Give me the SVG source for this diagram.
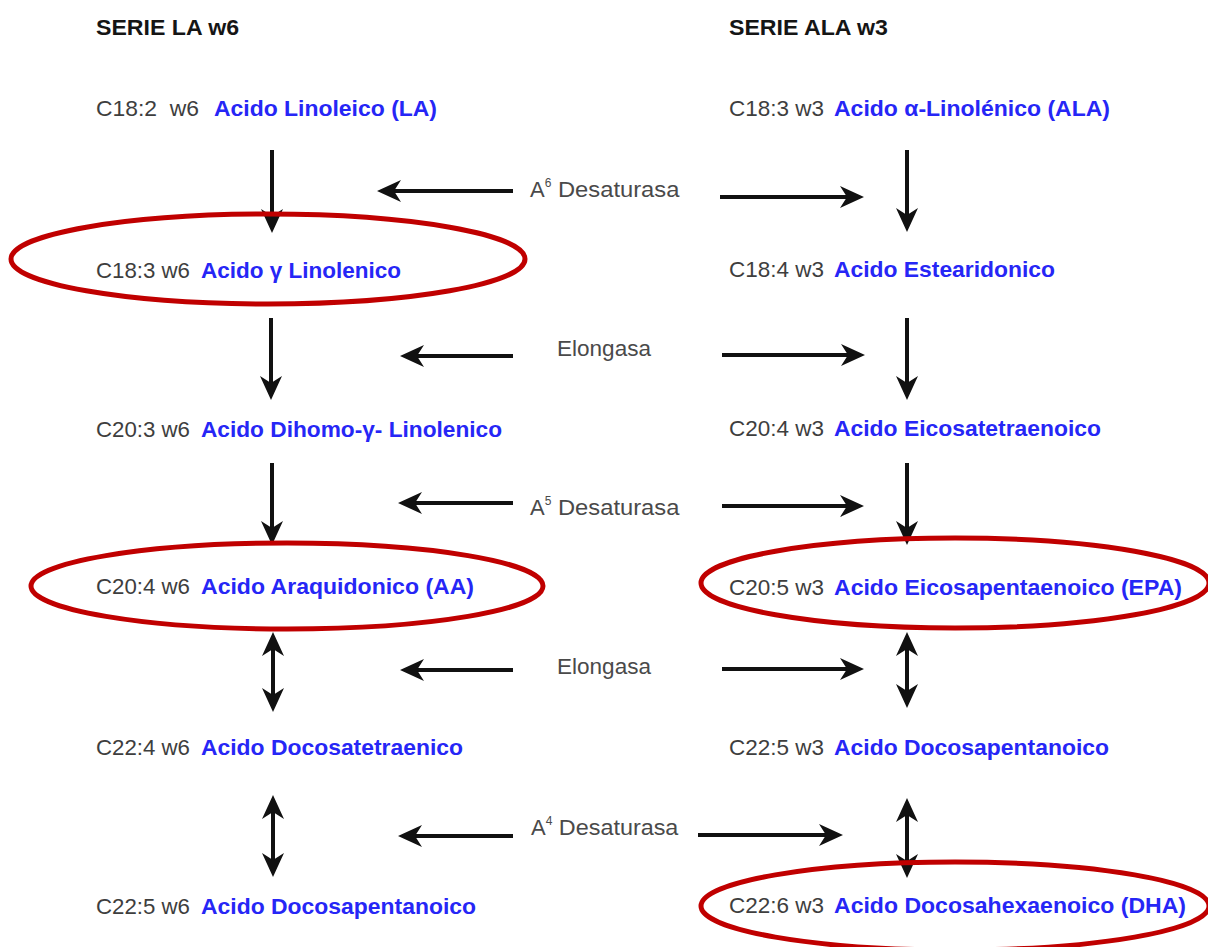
<svg xmlns="http://www.w3.org/2000/svg" width="1208" height="947" viewBox="0 0 1208 947">
<style>
  .hdr { font-family: "Liberation Sans", Arial, sans-serif; font-size: 22px; font-weight: bold; fill: #151515; }
  .c { font-family: "Liberation Sans", Arial, sans-serif; font-size: 22px; fill: #3e3e3e; }
  .n { font-family: "Liberation Sans", Arial, sans-serif; font-size: 22px; font-weight: bold; fill: #2626f6; }
  .lbl { font-family: "Liberation Sans", Arial, sans-serif; font-size: 22px; fill: #4a4a4a; }
  .sup { font-size: 12px; }
  .hl { fill: none; stroke: #c00000; stroke-width: 5; }
  .arr { stroke: #111; stroke-width: 4; fill: none; marker-end: url(#ah); }
  .dbl { stroke: #111; stroke-width: 4; fill: none; marker-end: url(#ah); marker-start: url(#ahs); }
</style>
<defs>
  <marker id="ah" markerUnits="userSpaceOnUse" markerWidth="24" markerHeight="22" viewBox="0 0 24 22" refX="8" refY="11" orient="auto">
    <path d="M0,0 L24,11 L0,22 L7,11 z" fill="#111"/>
  </marker>
  <marker id="ahs" markerUnits="userSpaceOnUse" markerWidth="24" markerHeight="22" viewBox="0 0 24 22" refX="8" refY="11" orient="auto-start-reverse">
    <path d="M0,0 L24,11 L0,22 L7,11 z" fill="#111"/>
  </marker>
</defs>
<rect width="1208" height="947" fill="#fff"/>

<g id="headers">
  <text class="hdr" x="96" y="35" textLength="143" lengthAdjust="spacingAndGlyphs">SERIE LA w6</text>
  <text class="hdr" x="729" y="35" textLength="159" lengthAdjust="spacingAndGlyphs">SERIE ALA w3</text>
</g>

<g id="connectors">
  <!-- left column vertical -->
  <line class="arr" x1="272" y1="150" x2="272" y2="217"/>
  <line class="arr" x1="271" y1="318" x2="271" y2="384"/>
  <line class="arr" x1="272" y1="463" x2="272" y2="529"/>
  <line class="dbl" x1="273" y1="648" x2="273" y2="696"/>
  <line class="dbl" x1="273" y1="811" x2="273" y2="861"/>
  <!-- right column vertical -->
  <line class="arr" x1="907" y1="150" x2="907" y2="216"/>
  <line class="arr" x1="907" y1="318" x2="907" y2="384"/>
  <line class="arr" x1="907" y1="463" x2="907" y2="529"/>
  <line class="dbl" x1="907" y1="648" x2="907" y2="692"/>
  <line class="dbl" x1="907" y1="814" x2="907" y2="862"/>
  <!-- horizontal enzyme arrows -->
  <line class="arr" x1="513" y1="191" x2="393" y2="191"/>
  <line class="arr" x1="720" y1="197" x2="848" y2="197"/>
  <line class="arr" x1="513" y1="356" x2="416" y2="356"/>
  <line class="arr" x1="722" y1="355" x2="849" y2="355"/>
  <line class="arr" x1="513" y1="503" x2="414" y2="503"/>
  <line class="arr" x1="722" y1="506" x2="848" y2="506"/>
  <line class="arr" x1="513" y1="670" x2="416" y2="670"/>
  <line class="arr" x1="722" y1="669" x2="848" y2="669"/>
  <line class="arr" x1="513" y1="836" x2="414" y2="836"/>
  <line class="arr" x1="698" y1="835" x2="827" y2="835"/>
  <!-- enzyme labels -->
  <text class="lbl" x="530" y="197">A<tspan class="sup" dy="-10">6</tspan><tspan dy="10" textLength="128" lengthAdjust="spacingAndGlyphs"> Desaturasa</tspan></text>
  <text class="lbl" x="557" y="356" textLength="94" lengthAdjust="spacingAndGlyphs">Elongasa</text>
  <text class="lbl" x="530" y="515">A<tspan class="sup" dy="-10">5</tspan><tspan dy="10" textLength="128" lengthAdjust="spacingAndGlyphs"> Desaturasa</tspan></text>
  <text class="lbl" x="557" y="674" textLength="94" lengthAdjust="spacingAndGlyphs">Elongasa</text>
  <text class="lbl" x="531" y="835">A<tspan class="sup" dy="-10">4</tspan><tspan dy="10" textLength="126" lengthAdjust="spacingAndGlyphs"> Desaturasa</tspan></text>
</g>

<!-- left series w6 -->
<g id="la">
  <text class="c" x="96" y="116" xml:space="preserve" textLength="103" lengthAdjust="spacingAndGlyphs">C18:2  w6</text>
  <text class="n" x="214" y="116" textLength="223" lengthAdjust="spacingAndGlyphs">Acido Linoleico (LA)</text>
</g>
<g id="gla">
  <ellipse class="hl" cx="268" cy="259" rx="257" ry="45"/>
  <text class="c" x="96" y="278" textLength="94" lengthAdjust="spacingAndGlyphs">C18:3 w6</text>
  <text class="n" x="201" y="278" textLength="200" lengthAdjust="spacingAndGlyphs">Acido γ Linolenico</text>
</g>
<g id="dgla">
  <text class="c" x="96" y="437" textLength="94" lengthAdjust="spacingAndGlyphs">C20:3 w6</text>
  <text class="n" x="201" y="437" textLength="301" lengthAdjust="spacingAndGlyphs">Acido Dihomo-γ- Linolenico</text>
</g>
<g id="aa">
  <ellipse class="hl" cx="287" cy="586" rx="256" ry="43"/>
  <text class="c" x="96" y="594" textLength="94" lengthAdjust="spacingAndGlyphs">C20:4 w6</text>
  <text class="n" x="201" y="594" textLength="273" lengthAdjust="spacingAndGlyphs">Acido Araquidonico (AA)</text>
</g>
<g id="dta">
  <text class="c" x="96" y="755" textLength="94" lengthAdjust="spacingAndGlyphs">C22:4 w6</text>
  <text class="n" x="201" y="755" textLength="262" lengthAdjust="spacingAndGlyphs">Acido Docosatetraenico</text>
</g>
<g id="dpa6">
  <text class="c" x="96" y="914" textLength="94" lengthAdjust="spacingAndGlyphs">C22:5 w6</text>
  <text class="n" x="201" y="914" textLength="275" lengthAdjust="spacingAndGlyphs">Acido Docosapentanoico</text>
</g>

<!-- right series w3 -->
<g id="ala">
  <text class="c" x="729" y="116" textLength="95" lengthAdjust="spacingAndGlyphs">C18:3 w3</text>
  <text class="n" x="834" y="116" textLength="276" lengthAdjust="spacingAndGlyphs">Acido α-Linolénico (ALA)</text>
</g>
<g id="sda">
  <text class="c" x="729" y="277" textLength="95" lengthAdjust="spacingAndGlyphs">C18:4 w3</text>
  <text class="n" x="834" y="277" textLength="221" lengthAdjust="spacingAndGlyphs">Acido Estearidonico</text>
</g>
<g id="eta">
  <text class="c" x="729" y="436" textLength="95" lengthAdjust="spacingAndGlyphs">C20:4 w3</text>
  <text class="n" x="834" y="436" textLength="267" lengthAdjust="spacingAndGlyphs">Acido Eicosatetraenoico</text>
</g>
<g id="epa">
  <ellipse class="hl" cx="955" cy="583" rx="254" ry="45"/>
  <text class="c" x="729" y="595" textLength="95" lengthAdjust="spacingAndGlyphs">C20:5 w3</text>
  <text class="n" x="834" y="595" textLength="348" lengthAdjust="spacingAndGlyphs">Acido Eicosapentaenoico (EPA)</text>
</g>
<g id="dpa3">
  <text class="c" x="729" y="755" textLength="95" lengthAdjust="spacingAndGlyphs">C22:5 w3</text>
  <text class="n" x="834" y="755" textLength="275" lengthAdjust="spacingAndGlyphs">Acido Docosapentanoico</text>
</g>
<g id="dha">
  <ellipse class="hl" cx="955" cy="906" rx="254" ry="44"/>
  <text class="c" x="729" y="913" textLength="95" lengthAdjust="spacingAndGlyphs">C22:6 w3</text>
  <text class="n" x="834" y="913" textLength="352" lengthAdjust="spacingAndGlyphs">Acido Docosahexaenoico (DHA)</text>
</g>
</svg>
